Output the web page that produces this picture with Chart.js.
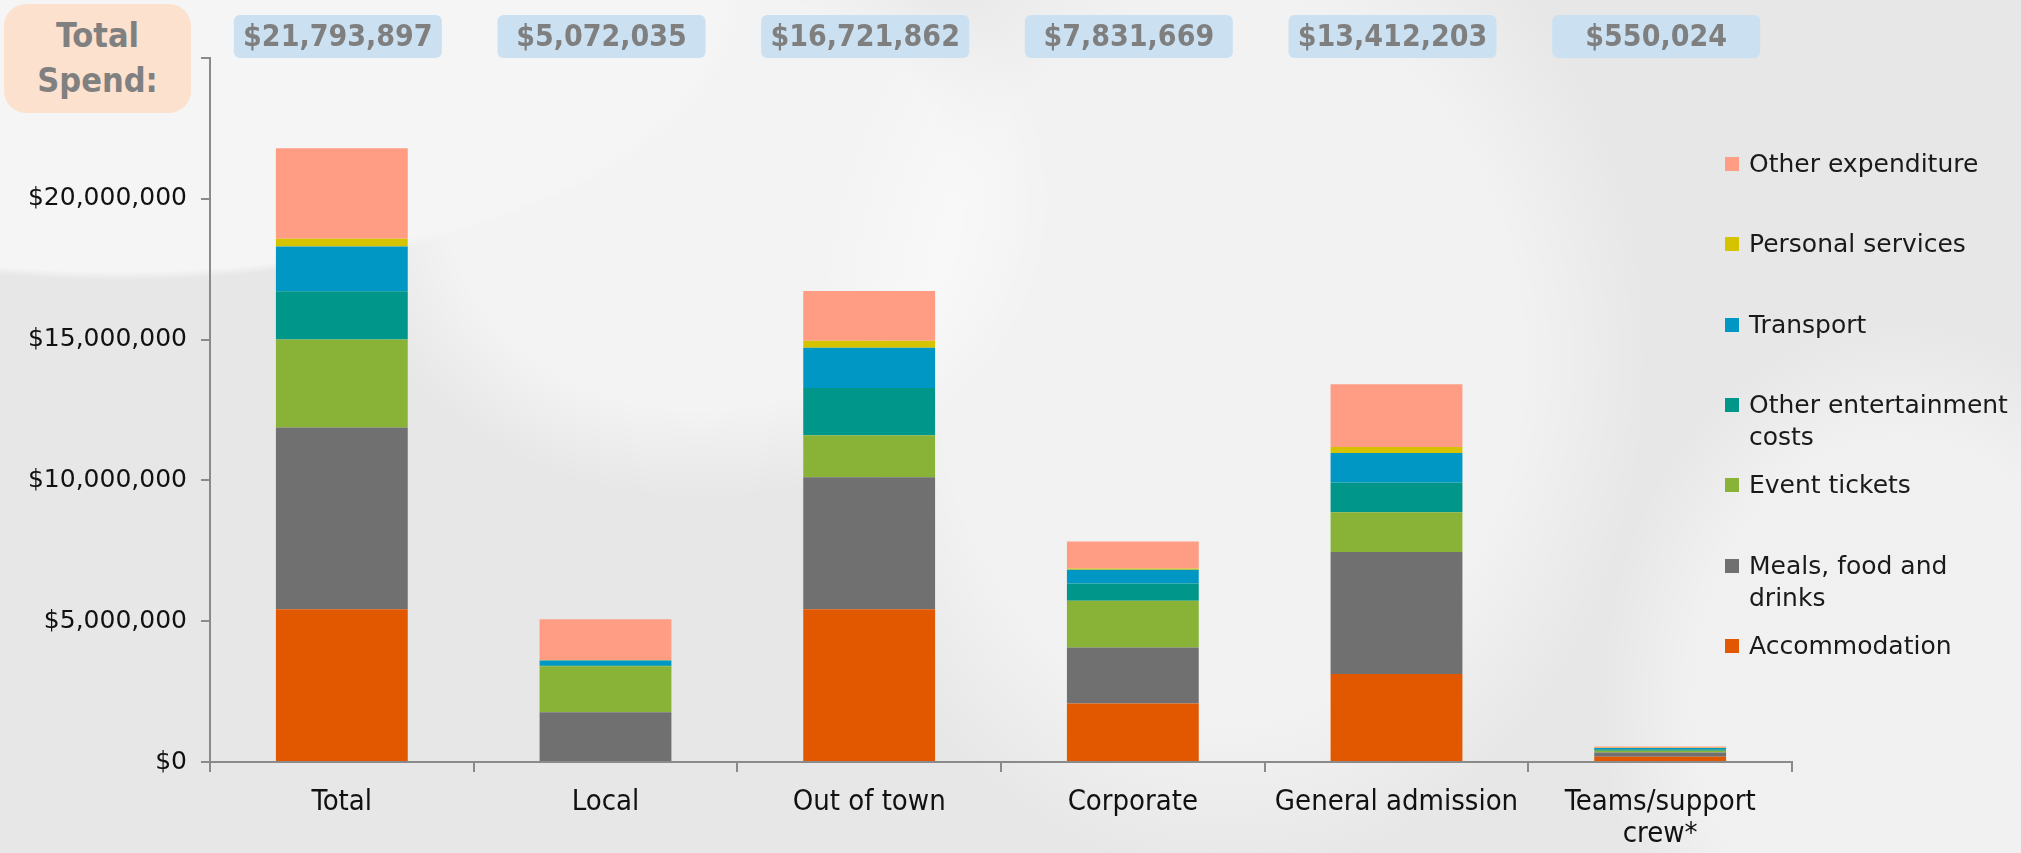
<!DOCTYPE html>
<html>
<head>
    <title>Total Spend</title>
    <script src="https://cdn.jsdelivr.net/npm/chart.js"></script>
    <style>
        html, body { margin: 0; padding: 0; }
        body {
            width: 2021px; height: 853px; overflow: hidden; position: relative;
            background:
                radial-gradient(ellipse 620px 280px at 120px 0px, #f5f5f5 0 97%, transparent 100%),
                radial-gradient(ellipse 420px 520px at 1230px 360px, rgba(255,255,255,0.45) 0 70%, transparent 100%),
                radial-gradient(ellipse 360px 300px at 700px 200px, rgba(255,255,255,0.5) 0 70%, transparent 100%),
                radial-gradient(ellipse 300px 380px at 1900px 700px, rgba(255,255,255,0.4) 0 70%, transparent 100%),
                #e7e7e7;
        }
        #wrap { position: absolute; left: 0; top: 0; width: 2021px; height: 853px; }
        #legend { position: absolute; left: 0; top: 0; }
        .item { position: absolute; left: 1725px; width: 296px; font: 25px "DejaVu Sans", sans-serif; color: #1a1a1a; line-height: 32px; }
        .item span.sw { position: absolute; left: 0; top: 9px; width: 14px; height: 14px; }
        .item span.tx { position: absolute; left: 24px; width: 272px; }
        #badge {
            position: absolute; left: 4px; top: 4px; width: 187px; height: 109px;
            background: #fde1cf; border-radius: 22px;
            font: bold 34px "DejaVu Sans Condensed", "DejaVu Sans", sans-serif; color: #808080;
            text-align: center; line-height: 45px; box-sizing: border-box; padding-top: 9px;
        }
    </style>
</head>
<body>
    <div id="wrap"><canvas id="spendChart" width="2021" height="853"></canvas></div>
    <div id="badge">Total<br>Spend:</div>
    <div id="legend"></div>

    <script>
        const categories = ['Total', 'Local', 'Out of town', 'Corporate', 'General admission', ['Teams/support', 'crew*']];
        const totalLabels = ['$21,793,897', '$5,072,035', '$16,721,862', '$7,831,669', '$13,412,203', '$550,024'];

        const accommodation      = [5420000,       0, 5420000, 2080000, 3125000, 190000];
        const mealsFoodDrinks    = [6460000, 1770000, 4690000, 1985000, 4328000, 150000];
        const eventTickets       = [3120000, 1630000, 1490000, 1662000, 1419000,  60000];
        const otherEntertainment = [1720000,   40000, 1680000,  610000, 1049000,  50000];
        const transport          = [1590000,  160000, 1430000,  490000, 1049000,  45000];
        const personalServices   = [ 270000,   20000,  250000,   48000,  215000,  10000];
        const otherExpenditure   = [3213897, 1452035, 1761862,  956669, 2227203,  45024];

        const series = [
            { label: 'Accommodation', data: accommodation, color: '#e25800' },
            { label: 'Meals, food and drinks', data: mealsFoodDrinks, color: '#707070' },
            { label: 'Event tickets', data: eventTickets, color: '#88b337' },
            { label: 'Other entertainment costs', data: otherEntertainment, color: '#009689' },
            { label: 'Transport', data: transport, color: '#0097c5' },
            { label: 'Personal services', data: personalServices, color: '#d6c300' },
            { label: 'Other expenditure', data: otherExpenditure, color: '#ff9c84' }
        ];

        // blue total boxes above each bar
        const totalsPlugin = {
            id: 'totals',
            afterDraw(chart) {
                const ctx = chart.ctx;
                const x = chart.scales.x;
                ctx.save();
                totalLabels.forEach((t, i) => {
                    const cx = x.getPixelForValue(i) - 4;
                    ctx.fillStyle = '#cbe1f2';
                    ctx.beginPath();
                    ctx.roundRect(cx - 104, 15, 208, 43, 6);
                    ctx.fill();
                    ctx.fillStyle = '#7f7f7f';
                    ctx.font = 'bold 30px "DejaVu Sans Condensed", "DejaVu Sans", sans-serif';
                    ctx.textAlign = 'center';
                    ctx.textBaseline = 'middle';
                    ctx.fillText(t, cx, 38);
                });
                ctx.restore();
            }
        };

        const ctx = document.getElementById('spendChart').getContext('2d');
        const chart = new Chart(ctx, {
            type: 'bar',
            data: {
                labels: categories,
                datasets: series.map(s => ({
                    label: s.label,
                    data: s.data,
                    backgroundColor: s.color,
                    borderWidth: 0,
                    categoryPercentage: 1,
                    barPercentage: 0.5
                }))
            },
            options: {
                responsive: false,
                animation: false,
                devicePixelRatio: 1,
                layout: { padding: { top: 58, right: 229, left: 0, bottom: 0 } },
                plugins: {
                    legend: { display: false },
                    tooltip: { enabled: false }
                },
                scales: {
                    x: {
                        stacked: true,
                        grid: { offset: true, drawOnChartArea: false, drawTicks: true, tickLength: 10, color: '#8a8a8a', lineWidth: 2 },
                        border: { display: true, color: '#8a8a8a', width: 2 },
                        ticks: {
                            color: '#111',
                            padding: 15,
                            maxRotation: 0,
                            autoSkip: false,
                            font: { family: '"DejaVu Sans Condensed", "DejaVu Sans", sans-serif', size: 29, lineHeight: 1.1 }
                        },
                        afterFit(scale) { scale.height = 91; }
                    },
                    y: {
                        stacked: true,
                        min: 0,
                        max: 25000000,
                        grid: { drawOnChartArea: false, drawTicks: true, tickLength: 9, color: '#8a8a8a', lineWidth: 2 },
                        border: { display: true, color: '#8a8a8a', width: 2 },
                        ticks: {
                            stepSize: 5000000,
                            color: '#111',
                            padding: 14,
                            font: { family: '"DejaVu Sans", sans-serif', size: 25 },
                            callback: v => v >= 25000000 ? '' : '$' + v.toLocaleString('en-US')
                        },
                        afterFit(scale) { scale.width = 210; }
                    }
                }
            },
            plugins: [totalsPlugin]
        });

        // legend, top item first
        const legend = document.getElementById('legend');
        series.slice().reverse().forEach((s, i) => {
            const el = document.createElement('div');
            el.className = 'item';
            el.style.top = (148 + i * 80.3) + 'px';
            el.innerHTML = '<span class="sw" style="background:' + s.color + '"></span><span class="tx">' + s.label + '</span>';
            legend.appendChild(el);
        });
    </script>
</body>
</html>
